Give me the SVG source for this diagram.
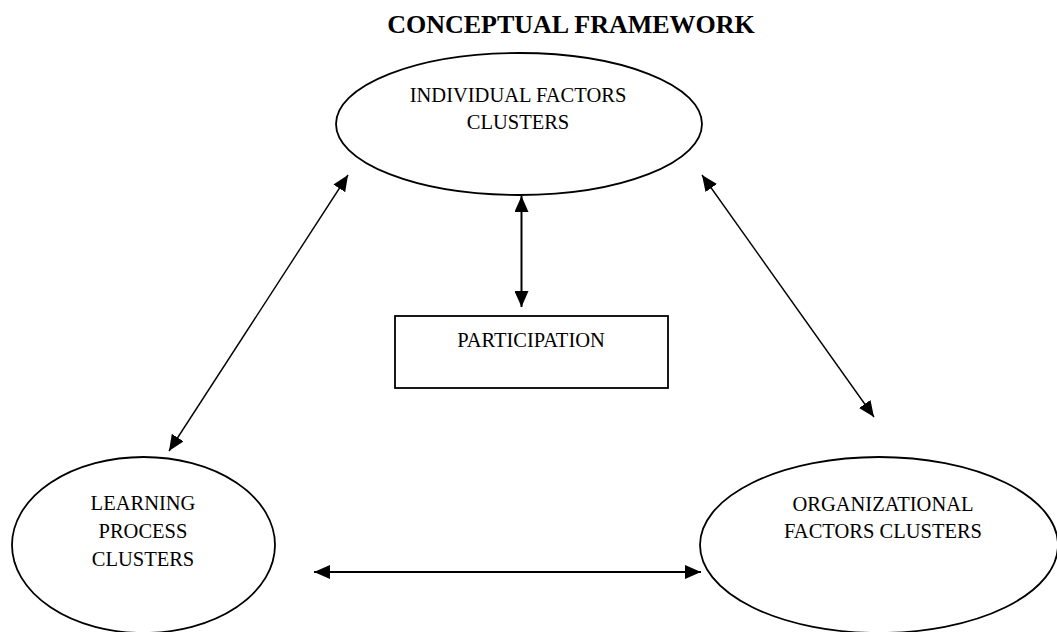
<svg xmlns="http://www.w3.org/2000/svg" width="1057" height="632" viewBox="0 0 1057 632">
<defs>
<style>
.shape{fill:#fff;stroke:#000;stroke-width:1.8}
.lbl{font-family:"Liberation Serif","Times New Roman",serif;font-size:20.5px;fill:#000;text-anchor:middle}
.title{font-family:"Liberation Serif","Times New Roman",serif;font-size:26px;font-weight:bold;fill:#000;text-anchor:middle}
.conn{stroke:#000;fill:none}
</style>
<marker id="ah" viewBox="0 0 16 14" refX="16" refY="7" markerWidth="16" markerHeight="14" markerUnits="userSpaceOnUse" orient="auto-start-reverse">
<path d="M0,0 L16,7 L0,14 z" fill="#000"/>
</marker>
</defs>
<rect width="1057" height="632" fill="#fff"/>
<text class="title" x="571" y="33">CONCEPTUAL FRAMEWORK</text>
<g id="individual">
<ellipse class="shape" cx="519" cy="124" rx="183" ry="71"/>
<text class="lbl" x="518" y="102">INDIVIDUAL FACTORS</text>
<text class="lbl" x="518" y="129">CLUSTERS</text>
</g>
<g id="participation">
<rect class="shape" x="395" y="316" width="273" height="72"/>
<text class="lbl" x="531" y="347">PARTICIPATION</text>
</g>
<g id="learning">
<ellipse class="shape" cx="143.5" cy="545" rx="131.5" ry="88"/>
<text class="lbl" x="143" y="510">LEARNING</text>
<text class="lbl" x="143" y="538">PROCESS</text>
<text class="lbl" x="143" y="566">CLUSTERS</text>
</g>
<g id="organizational">
<ellipse class="shape" cx="879" cy="545" rx="179" ry="88"/>
<text class="lbl" x="883" y="511">ORGANIZATIONAL</text>
<text class="lbl" x="883" y="538">FACTORS CLUSTERS</text>
</g>
<g id="connectors">
<line class="conn" stroke-width="2" x1="521.5" y1="196" x2="521.5" y2="307" marker-start="url(#ah)" marker-end="url(#ah)"/>
<line class="conn" stroke-width="1.4" x1="348" y1="175" x2="169" y2="451" marker-start="url(#ah)" marker-end="url(#ah)"/>
<line class="conn" stroke-width="1.4" x1="702" y1="175" x2="874" y2="417" marker-start="url(#ah)" marker-end="url(#ah)"/>
<line class="conn" stroke-width="2" x1="314" y1="572" x2="701" y2="572" marker-start="url(#ah)" marker-end="url(#ah)"/>
</g>
</svg>
